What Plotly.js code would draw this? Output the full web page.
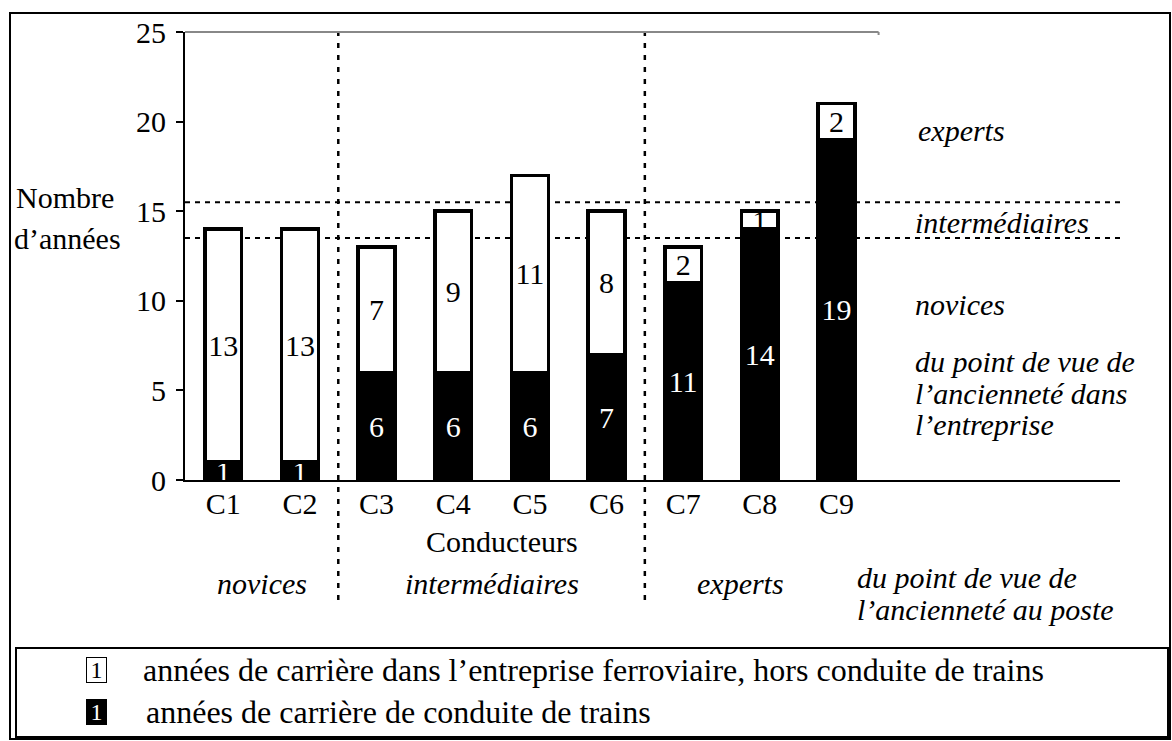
<!DOCTYPE html>
<html><head><meta charset="utf-8">
<script src="https://cdn.plot.ly/plotly-3.0.1.min.js"></script>
<style>html,body{margin:0;padding:0;background:#fff;}#chart{width:1172px;height:741px;}</style>
</head><body><div id="chart"></div>
<script>
// ---- data ----
const categories = ['C1','C2','C3','C4','C5','C6','C7','C8','C9'];
const drivingYears = [1, 1, 6, 6, 6, 7, 11, 14, 19];      // années de conduite de trains (noir)
const otherYears   = [13, 13, 7, 9, 11, 8, 2, 1, 2];       // années hors conduite (blanc)
const yTickVals = [0, 5, 10, 15, 20, 25];
const postGroups = ['novices', 'intermédiaires', 'experts'];
const postGroupBounds = [1.5, 5.5];          // limites entre groupes (entre catégories)
const companyThresholds = [13.5, 15.5];      // limites novices / intermédiaires / experts (ancienneté entreprise)
const legendLabels = ['années de carrière dans l’entreprise ferroviaire, hors conduite de trains',
                      'années de carrière de conduite de trains'];

// ---- geometry helpers ----
const W = 1172, H = 741, L = 185, R = 1120, T = 32, B = 480;
const xRange = [-0.5, 11.7];
const px = p => (p - L) / (R - L);          // pixel x -> paper
const py = p => (B - p) / (B - T);          // pixel y -> paper
const cx = c => (c - xRange[0]) / (xRange[1] - xRange[0]); // category pos -> paper

const FONT = 'Liberation Serif, Times New Roman, serif';
const FS = 30;

const traces = [
  {type: 'bar', x: categories, y: drivingYears, text: drivingYears.map(String),
   marker: {color: '#000', line: {color: '#000', width: 3.5}},
   textposition: 'inside', insidetextanchor: 'middle', textangle: 0, constraintext: 'none',
   textfont: {family: FONT, size: FS, color: '#fff'}, width: 0.48, showlegend: false, hoverinfo: 'skip'},
  {type: 'bar', x: categories, y: otherYears, text: otherYears.map(String),
   marker: {color: '#fff', line: {color: '#000', width: 3.5}},
   textposition: 'inside', insidetextanchor: 'middle', textangle: 0, constraintext: 'none',
   textfont: {family: FONT, size: FS, color: '#000'}, width: 0.48, showlegend: false, hoverinfo: 'skip'}
];

const ann = [];
function txt(text, x, y, xanchor, opts) {
  ann.push(Object.assign({xref: 'paper', yref: 'paper', x: px(x), y: py(y), xanchor: xanchor, yanchor: 'middle',
    text: text, showarrow: false, font: {family: FONT, size: FS, color: '#000'}}, opts || {}));
}
txt('Nombre', 14, 197, 'left');
txt('d’années', 12, 238, 'left');
txt('Conducteurs', 502, 541, 'center');
// groupes selon l'ancienneté au poste (sous l'axe)
const postCenters = [
  (xRange[0] + 0 + postGroupBounds[0]) / 2,
  (postGroupBounds[0] + postGroupBounds[1]) / 2,
  (postGroupBounds[1] + 8) / 2
];
postGroups.forEach((g, i) => {
  ann.push({xref: 'paper', yref: 'paper', x: cx(postCenters[i]), y: py(583), xanchor: 'center', yanchor: 'middle',
    text: '<i>' + g + '</i>', showarrow: false, font: {family: FONT, size: FS, color: '#000'}});
});
txt('<i>du point de vue de</i>', 855, 577, 'left');
txt('<i>l’ancienneté au poste</i>', 855, 609, 'left');
// groupes selon l'ancienneté dans l'entreprise (à droite)
txt('<i>experts</i>', 916, 130, 'left');
txt('<i>intermédiaires</i>', 913, 222, 'left');
txt('<i>novices</i>', 913, 304, 'left');
txt('<i>du point de vue de</i>', 913, 361, 'left');
txt('<i>l’ancienneté dans</i>', 913, 393, 'left');
txt('<i>l’entreprise</i>', 913, 424, 'left');
// légende
ann.push({xref: 'paper', yref: 'paper', x: px(96), y: py(670), xanchor: 'center', yanchor: 'middle',
  text: '1', showarrow: false, width: 19, height: 24, bgcolor: '#fff', bordercolor: '#000', borderwidth: 1, borderpad: 0,
  font: {family: FONT, size: 24, color: '#000'}});
ann.push({xref: 'paper', yref: 'paper', x: px(96), y: py(712), xanchor: 'center', yanchor: 'middle',
  text: '1', showarrow: false, width: 19, height: 24, bgcolor: '#000', bordercolor: '#000', borderwidth: 1, borderpad: 0,
  font: {family: FONT, size: 24, color: '#fff'}});
txt(legendLabels[0], 141, 670, 'left', {font: {family: FONT, size: 32, color: '#000'}});
txt(legendLabels[1], 144, 712, 'left', {font: {family: FONT, size: 32, color: '#000'}});

const shapes = [];
// cadre extérieur
shapes.push({type: 'rect', xref: 'paper', yref: 'paper', x0: px(10), x1: px(1170), y0: py(739), y1: py(13),
  line: {color: '#000', width: 2}, fillcolor: 'rgba(0,0,0,0)'});
// cadre légende
shapes.push({type: 'rect', xref: 'paper', yref: 'paper', x0: px(16), x1: px(1168), y0: py(737), y1: py(648),
  line: {color: '#000', width: 2}, fillcolor: 'rgba(0,0,0,0)'});
// ligne grise en haut (y = 25)
shapes.push({type: 'line', xref: 'paper', yref: 'paper', x0: 0, x1: cx(8.55), y0: 1, y1: 1,
  line: {color: '#888', width: 2}});
shapes.push({type: 'line', xref: 'paper', yref: 'paper', x0: cx(8.55), x1: cx(8.55), y0: 1, y1: py(35),
  line: {color: '#888', width: 2}});
// seuils ancienneté entreprise
companyThresholds.forEach(v => shapes.push({type: 'line', xref: 'paper', yref: 'y', x0: 0, x1: 1, y0: v, y1: v,
  layer: 'below', line: {color: '#000', width: 2, dash: '5px,5px'}}));
// limites groupes ancienneté poste
postGroupBounds.forEach(b => shapes.push({type: 'line', xref: 'paper', yref: 'paper', x0: cx(b), x1: cx(b),
  y0: py(600), y1: py(27), layer: 'below', line: {color: '#000', width: 2.5, dash: '5px,7px'}}));

const layout = {
  width: W, height: H, margin: {l: L, r: W - R, t: T, b: H - B, pad: 0},
  paper_bgcolor: '#fff', plot_bgcolor: 'rgba(0,0,0,0)', barmode: 'stack', showlegend: false, hovermode: false,
  font: {family: FONT, size: FS, color: '#000'},
  xaxis: {type: 'category', range: xRange, showline: true, linecolor: '#000', linewidth: 2, ticks: '',
    showgrid: false, zeroline: false, tickfont: {family: FONT, size: FS, color: '#000'}, ticklabelstandoff: -4},
  yaxis: {range: [0, 25], tickvals: yTickVals, ticktext: yTickVals.map(String), showline: true, linecolor: '#000', linewidth: 2,
    ticks: 'outside', ticklen: 7, tickwidth: 2, tickcolor: '#000', showgrid: false, zeroline: false,
    tickfont: {family: FONT, size: FS, color: '#000'}, ticklabelstandoff: 4},
  annotations: ann, shapes: shapes
};
Plotly.newPlot('chart', traces, layout, {staticPlot: true, displayModeBar: false});
</script>
</body></html>
